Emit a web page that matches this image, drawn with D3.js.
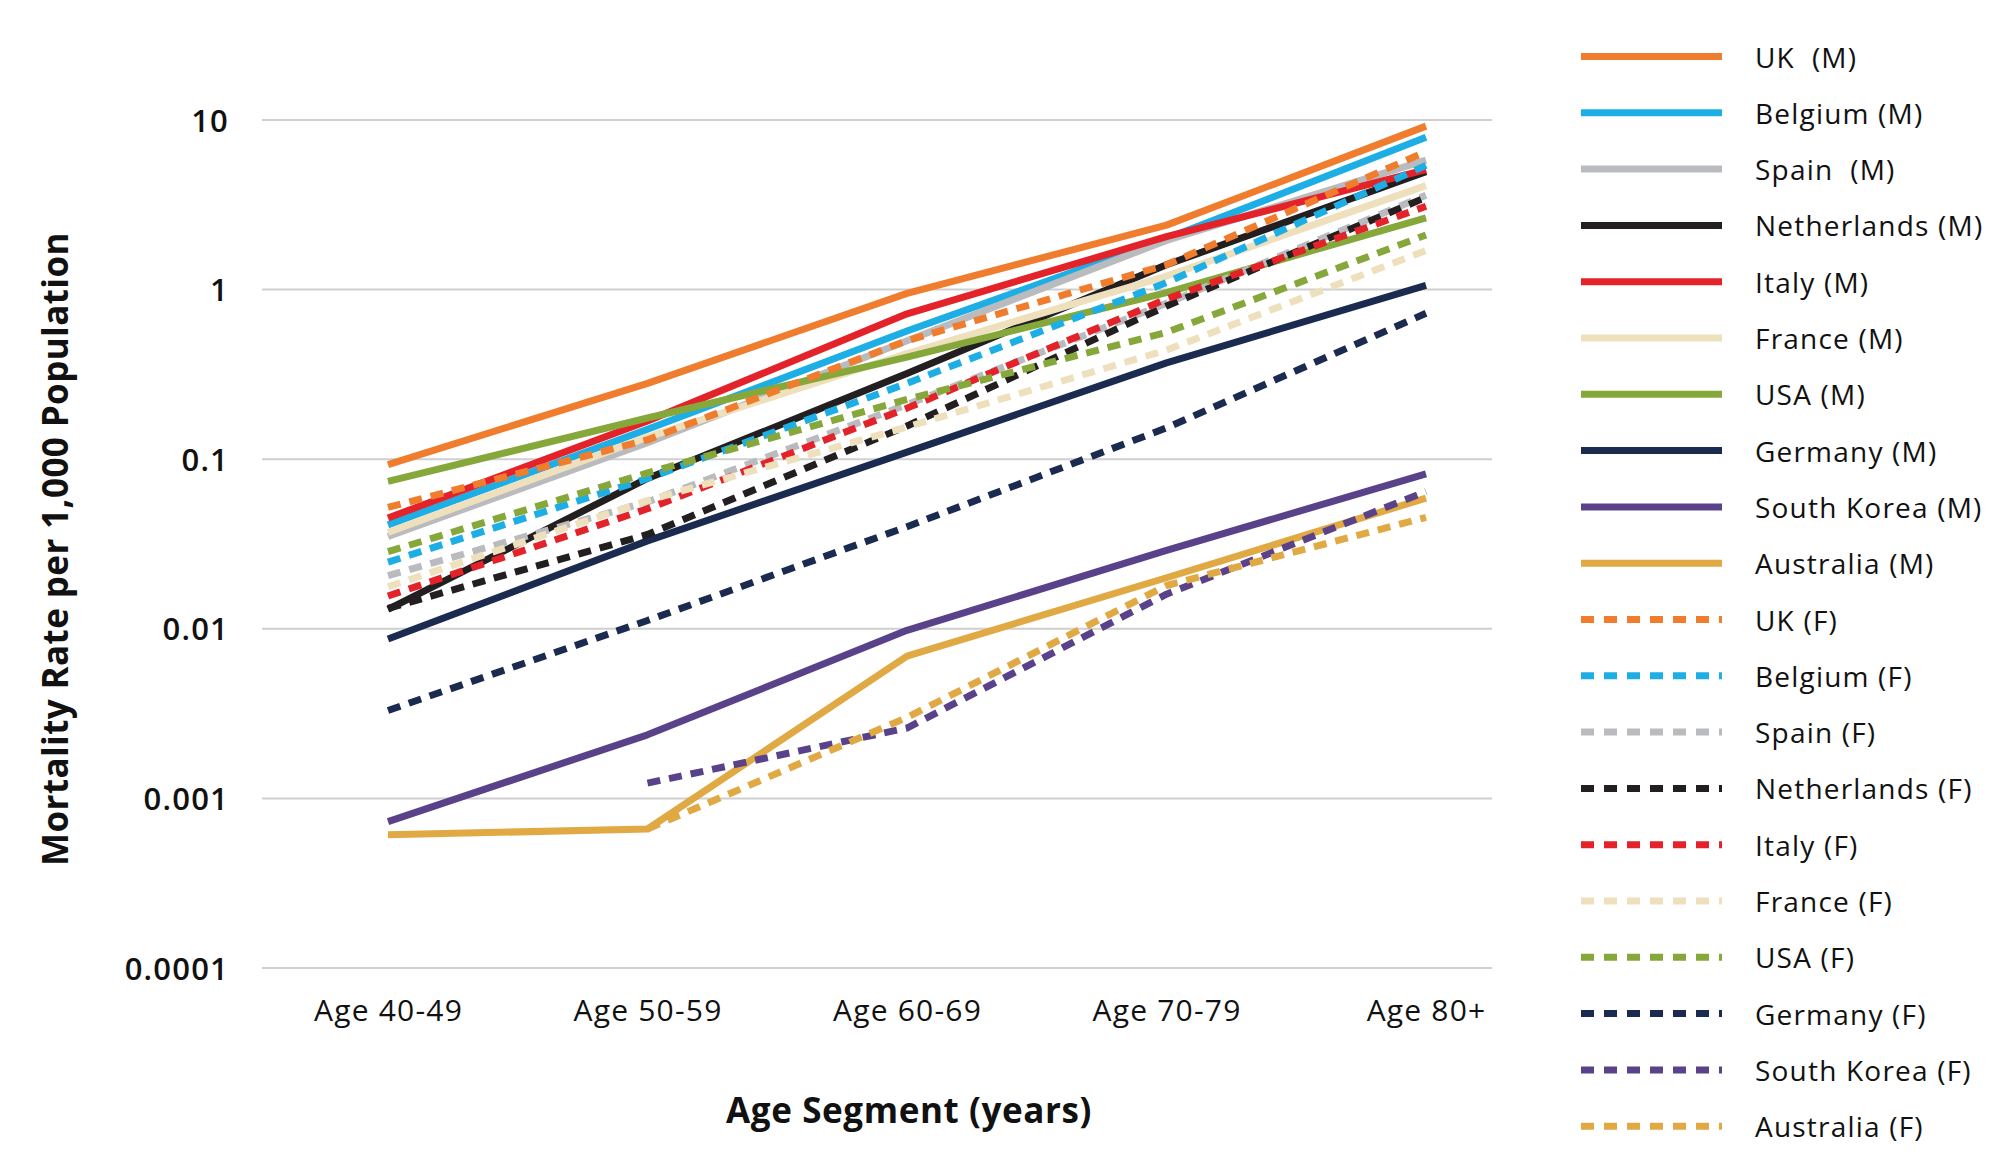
<!DOCTYPE html>
<html>
<head>
<meta charset="utf-8">
<script src="https://cdn.jsdelivr.net/npm/d3@7"></script>
<style>
  html, body { margin: 0; padding: 0; background: #fff; }
  svg { display: block; }
  text { font-family: "Open Sans", "Noto Sans", sans-serif; fill: #111; }
</style>
</head>
<body>
<svg id="chart" width="2014" height="1167"></svg>
<script>
const categories = ["Age 40-49", "Age 50-59", "Age 60-69", "Age 70-79", "Age 80+"];
const yTicks = [10, 1, 0.1, 0.01, 0.001, 0.0001];
const yTickLabels = ["10", "1", "0.1", "0.01", "0.001", "0.0001"];

const seriesNames = [
  "UK  (M)", "Belgium (M)", "Spain  (M)", "Netherlands (M)", "Italy (M)",
  "France (M)", "USA (M)", "Germany (M)", "South Korea (M)", "Australia (M)",
  "UK (F)", "Belgium (F)", "Spain (F)", "Netherlands (F)", "Italy (F)",
  "France (F)", "USA (F)", "Germany (F)", "South Korea (F)", "Australia (F)"
];
const seriesColors = [
  "#EF7D2D", "#1DAEE5", "#B9BBBE", "#231F20", "#E32229",
  "#EEE0BC", "#86A83B", "#1B2A4F", "#5A428B", "#E0A943",
  "#EF7D2D", "#1DAEE5", "#B9BBBE", "#231F20", "#E32229",
  "#EEE0BC", "#86A83B", "#1B2A4F", "#5A428B", "#E0A943"
];
const seriesDashed = [
  false, false, false, false, false, false, false, false, false, false,
  true, true, true, true, true, true, true, true, true, true
];

const ukM        = [0.093, 0.28, 0.95, 2.4, 9.2];
const belgiumM   = [0.041, 0.15, 0.57, 2.0, 7.9];
const spainM     = [0.035, 0.125, 0.5, 1.95, 5.8];
const netherM    = [0.013, 0.077, 0.32, 1.4, 4.95];
const italyM     = [0.045, 0.168, 0.72, 2.05, 5.1];
const franceM    = [0.037, 0.135, 0.42, 1.2, 4.1];
const usaM       = [0.074, 0.175, 0.4, 0.96, 2.65];
const germanyM   = [0.0087, 0.033, 0.11, 0.37, 1.06];
const koreaM     = [0.00073, 0.00237, 0.0098, 0.029, 0.082];
const australiaM = [0.00061, 0.00066, 0.0069, 0.020, 0.059];
const ukF        = [0.052, 0.13, 0.5, 1.4, 6.5];
const belgiumF   = [0.0247, 0.077, 0.28, 1.1, 5.4];
const spainF     = [0.0206, 0.056, 0.21, 0.83, 3.6];
const netherF    = [0.0132, 0.036, 0.157, 0.8, 3.5];
const italyF     = [0.0156, 0.051, 0.20, 0.88, 3.1];
const franceF    = [0.0177, 0.057, 0.155, 0.44, 1.7];
const usaF       = [0.0285, 0.083, 0.225, 0.56, 2.1];
const germanyF   = [0.0033, 0.0112, 0.040, 0.153, 0.725];
const koreaF     = [null, 0.00123, 0.0026, 0.016, 0.0645];
const australiaF = [null, 0.00066, 0.0030, 0.018, 0.0454];

const seriesValues = [
  ukM, belgiumM, spainM, netherM, italyM, franceM, usaM, germanyM, koreaM, australiaM,
  ukF, belgiumF, spainF, netherF, italyF, franceF, usaF, germanyF, koreaF, australiaF
];

const svg = d3.select("#chart");

const plotLeft = 262, plotRight = 1492;
const x = d3.scalePoint().domain(categories).range([388, 1426]);
const y = d3.scaleLog().domain([0.0001, 10]).range([968, 120]);

// gridlines
svg.append("g").selectAll("line").data(yTicks).join("line")
  .attr("x1", plotLeft).attr("x2", plotRight)
  .attr("y1", d => y(d)).attr("y2", d => y(d))
  .attr("stroke", "#cfcfcf").attr("stroke-width", 2);

// y axis labels
const yAxis = d3.axisLeft(y).tickValues(yTicks)
  .tickFormat((d, i) => yTickLabels[i]).tickSize(0).tickPadding(0);
const yg = svg.append("g").attr("transform", "translate(229,0)").call(yAxis);
yg.select(".domain").remove();
yg.selectAll("text")
  .style("font-family", '"Open Sans", sans-serif')
  .style("font-size", "31px").style("font-weight", "600")
  .style("letter-spacing", "1.2px")
  .attr("fill", "#111").attr("dy", "0.36em");

// x axis labels
const xAxis = d3.axisBottom(x).tickSize(0).tickPadding(0);
const xg = svg.append("g").attr("transform", "translate(0,1010)").call(xAxis);
xg.select(".domain").remove();
xg.selectAll("text")
  .style("font-family", '"Open Sans", sans-serif')
  .style("font-size", "30px").style("font-weight", "400")
  .style("letter-spacing", "1.2px")
  .attr("fill", "#111").attr("dy", "0.35em");

// axis titles
svg.append("text")
  .attr("transform", "translate(54,549) rotate(-90)")
  .attr("text-anchor", "middle").attr("dominant-baseline", "central")
  .style("font-size", "35px").style("font-weight", "700")
  .style("letter-spacing", "0.4px")
  .text("Mortality Rate per 1,000 Population");

svg.append("text")
  .attr("x", 909).attr("y", 1109)
  .attr("text-anchor", "middle").attr("dominant-baseline", "central")
  .style("font-size", "35px").style("font-weight", "700")
  .style("letter-spacing", "0.6px")
  .text("Age Segment (years)");

// lines
const line = d3.line()
  .defined(d => d.v != null)
  .x(d => x(d.c))
  .y(d => y(d.v));

const lines = svg.append("g");
seriesValues.forEach((vals, i) => {
  const pts = vals.map((v, j) => ({ c: categories[j], v: v }));
  lines.append("path")
    .datum(pts)
    .attr("d", line)
    .attr("fill", "none")
    .attr("stroke", seriesColors[i])
    .attr("stroke-width", 7)
    .attr("stroke-linejoin", "round")
    .attr("stroke-dasharray", seriesDashed[i] ? "13,9" : null);
});

// legend
const legend = svg.append("g");
const legendY = d3.scalePoint().domain(seriesNames).range([56.5, 56.5 + 19 * 56.3]);
seriesNames.forEach((name, i) => {
  const yy = legendY(name);
  legend.append("line")
    .attr("x1", 1581).attr("x2", 1722)
    .attr("y1", yy).attr("y2", yy)
    .attr("stroke", seriesColors[i]).attr("stroke-width", 7)
    .attr("stroke-dasharray", seriesDashed[i] ? "13,10" : null);
  legend.append("text")
    .attr("x", 1755).attr("y", yy)
    .attr("dominant-baseline", "central")
    .style("font-size", "28px")
    .style("letter-spacing", "1.2px")
    .style("white-space", "pre")
    .attr("xml:space", "preserve")
    .text(name);
});
</script>
</body>
</html>
